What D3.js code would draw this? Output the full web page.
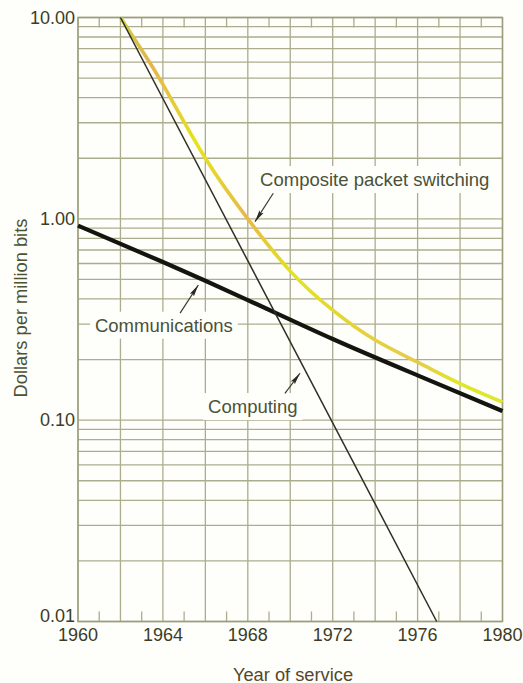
<!DOCTYPE html>
<html><head><meta charset="utf-8">
<script src="https://cdn.jsdelivr.net/npm/d3@7"></script>
<style>
html,body{margin:0;padding:0;background:#fefefa;}
svg{display:block;font-family:"Liberation Sans",Arial,sans-serif;}
</style></head>
<body>
<svg id="chart" width="523" height="683"></svg>
<script>
// ---- data ----
const xTickYears = [1960, 1964, 1968, 1972, 1976, 1980];
const xGridYears = [1960, 1962, 1964, 1966, 1968, 1970, 1972, 1974, 1976, 1978, 1980];
const xMinorYears = [1961, 1963, 1965, 1967, 1969, 1971, 1973, 1975, 1977, 1979];
const yTickValues = [10, 1, 0.1, 0.01];
const yTickLabels = ["10.00", "1.00", "0.10", "0.01"];

const computingYears = [1962, 1976.9];
const computingValues = [10, 0.01];

const communicationsYears = [1960, 1964, 1968, 1972, 1976, 1980];
const communicationsValues = [0.926, 0.61, 0.395, 0.253, 0.167, 0.111];

const compositeYears = [1962, 1963, 1964, 1966, 1968, 1970, 1972, 1974, 1976, 1978, 1980];
const compositeValues = [10, 6.9, 4.65, 2.0, 1.0, 0.55, 0.352, 0.250, 0.194, 0.152, 0.123];

const seriesLabels = ["Composite packet switching", "Communications", "Computing"];
const labelYears = [1968.58, 1960.80, 1966.13];
const labelValues = [1.456, 0.275, 0.1085];
const arrowFromYears = [1969.20, 1964.81, 1969.75];
const arrowFromValues = [1.34, 0.340, 0.136];
const arrowToYears = [1968.34, 1965.67, 1970.46];
const arrowToValues = [0.968, 0.469, 0.171];

// ---- layout ----
const svg = d3.select("#chart");
const L = 78, R = 502.5, T = 17.5, B = 621.5;
const x = d3.scaleLinear().domain([1960, 1980]).range([L, R]);
const y = d3.scaleLog().domain([0.01, 10]).range([B, T]);

const gridColor = "#acac8e";
const textColor = "#3c3c28";

const gridVals = [];
for (const d of [0.01, 0.1, 1]) for (let k = 1; k <= 10; k++) gridVals.push(+(d * k).toPrecision(3));
const uniqGrid = Array.from(new Set(gridVals));

const grid = svg.append("g");
grid.selectAll("line.h").data(uniqGrid).join("line")
  .attr("x1", L).attr("x2", R)
  .attr("y1", d => y(d)).attr("y2", d => y(d))
  .attr("stroke", gridColor).attr("stroke-width", 1.3);
grid.selectAll("line.v").data(xGridYears).join("line")
  .attr("x1", d => x(d)).attr("x2", d => x(d))
  .attr("y1", T).attr("y2", B)
  .attr("stroke", gridColor).attr("stroke-width", 1.3);
grid.selectAll("line.tt").data(xMinorYears).join("line")
  .attr("x1", d => x(d)).attr("x2", d => x(d))
  .attr("y1", T).attr("y2", T + 10)
  .attr("stroke", gridColor).attr("stroke-width", 1.3);
grid.selectAll("line.bt").data(xMinorYears).join("line")
  .attr("x1", d => x(d)).attr("x2", d => x(d))
  .attr("y1", B).attr("y2", B - 10)
  .attr("stroke", gridColor).attr("stroke-width", 1.3);
svg.append("rect").attr("x", L).attr("y", T).attr("width", R - L).attr("height", B - T)
  .attr("fill", "none").attr("stroke", "#9c9c7c").attr("stroke-width", 1.4);

const labelG = svg.append("g");
const labels = labelG.selectAll("text").data(seriesLabels).join("text")
  .attr("x", (d, i) => x(labelYears[i]))
  .attr("y", (d, i) => y(labelValues[i]))
  .attr("font-size", 18.5)
  .attr("fill", "#4a5238")
  .text(d => d);
labels.each(function () {
  const b = this.getBBox();
  labelG.insert("rect", "text")
    .attr("x", b.x - 5).attr("y", b.y - 3)
    .attr("width", b.width + 10).attr("height", b.height + 6)
    .attr("fill", "#fefefa");
});

const defs = svg.append("defs");
const grad = defs.append("linearGradient").attr("id", "compGrad")
  .attr("gradientUnits", "userSpaceOnUse")
  .attr("x1", x(1962)).attr("x2", x(1980)).attr("y1", 0).attr("y2", 0);
[[0, "#c8d044"], [0.08, "#e6b44c"], [0.2, "#e4e41e"], [0.33, "#e8b84a"], [0.45, "#e2e41e"],
 [0.62, "#e4d23a"], [0.78, "#e6cc48"], [0.88, "#e0e628"], [1, "#dee630"]]
  .forEach(s => grad.append("stop").attr("offset", s[0]).attr("stop-color", s[1]));

const line = d3.line().x(d => x(d[0])).y(d => y(d[1]));
const smooth = d3.line().x(d => x(d[0])).y(d => y(d[1])).curve(d3.curveNatural);

const plot = svg.append("g");
plot.append("path")
  .datum(compositeYears.map((yr, i) => [yr, compositeValues[i]]))
  .attr("d", smooth).attr("fill", "none")
  .attr("stroke", "url(#compGrad)").attr("stroke-width", 3.6);
plot.append("path")
  .datum(communicationsYears.map((yr, i) => [yr, communicationsValues[i]]))
  .attr("d", smooth).attr("fill", "none")
  .attr("stroke", "#151510").attr("stroke-width", 4.2);
plot.append("path")
  .datum(computingYears.map((yr, i) => [yr, computingValues[i]]))
  .attr("d", line).attr("fill", "none")
  .attr("stroke", "#2e2e24").attr("stroke-width", 1.5);

defs.append("marker").attr("id", "arrow")
  .attr("viewBox", "0 0 12 6").attr("refX", 12).attr("refY", 3)
  .attr("markerWidth", 12).attr("markerHeight", 6)
  .attr("markerUnits", "userSpaceOnUse").attr("orient", "auto")
  .append("path").attr("d", "M0,0.6 L12,3 L0,5.4 L2,3 Z").attr("fill", "#2a2a20");
svg.append("g").selectAll("line").data(seriesLabels).join("line")
  .attr("x1", (d, i) => x(arrowFromYears[i])).attr("y1", (d, i) => y(arrowFromValues[i]))
  .attr("x2", (d, i) => x(arrowToYears[i])).attr("y2", (d, i) => y(arrowToValues[i]))
  .attr("stroke", "#3a3a2c").attr("stroke-width", 1.2)
  .attr("marker-end", "url(#arrow)");

svg.append("g").selectAll("text").data(yTickValues).join("text")
  .attr("x", L - 3).attr("y", d => Math.min(y(d) + 6.3, B))
  .attr("text-anchor", "end").attr("font-size", 18).attr("fill", textColor)
  .text((d, i) => yTickLabels[i]);
svg.append("g").selectAll("text").data(xTickYears).join("text")
  .attr("x", d => x(d)).attr("y", B + 19.5)
  .attr("text-anchor", "middle").attr("font-size", 18).attr("fill", textColor)
  .text(d => d);

svg.append("text").attr("x", 293).attr("y", 680.5).attr("text-anchor", "middle")
  .attr("font-size", 18.3).attr("fill", "#54482a").text("Year of service");
svg.append("text").attr("transform", "translate(27,308) rotate(-90)")
  .attr("text-anchor", "middle").attr("font-size", 18.3).attr("fill", "#4a5232")
  .text("Dollars per million bits");
</script>
</body></html>
